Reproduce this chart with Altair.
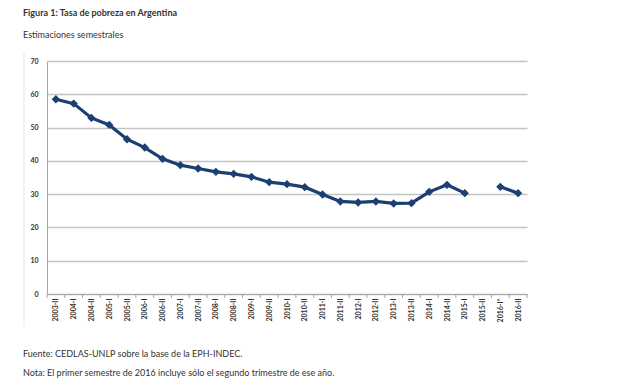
import altair as alt
import pandas as pd

categories = ["2003-II", "2004-I", "2004-II", "2005-I", "2005-II", "2006-I", "2006-II",
              "2007-I", "2007-II", "2008-I", "2008-II", "2009-I", "2009-II", "2010-I",
              "2010-II", "2011-I", "2011-II", "2012-I", "2012-II", "2013-I", "2013-II",
              "2014-I", "2014-II", "2015-I", "2015-II", "2016-I*", "2016-II"]
values = [58.5, 57.2, 52.9, 50.8, 46.5, 44.0, 40.6, 38.7, 37.7, 36.7, 36.1, 35.2, 33.6, 33.0,
          32.1, 29.9, 27.8, 27.5, 27.8, 27.2, 27.3, 30.7, 32.8, 30.3, None, 32.2, 30.3]
y_ticks = [0, 10, 20, 30, 40, 50, 60, 70]

title = "Figura 1: Tasa de pobreza en Argentina"
subtitle = "Estimaciones semestrales"
source = "Fuente: CEDLAS-UNLP sobre la base de la EPH-INDEC."
note = "Nota: El primer semestre de 2016 incluye sólo el segundo trimestre de ese año."

FONT = "Lato"
NAVY = "#1c3f73"

rows = []
seg = 0
for i, (c, v) in enumerate(zip(categories, values)):
    if v is None:
        seg += 1
        continue
    rows.append({"idx": i, "cat": c, "val": v, "seg": seg})
df = pd.DataFrame(rows)

n = len(categories)
edges = pd.DataFrame({"e": [i - 0.5 for i in range(n + 1)]})

label_expr = "[" + ",".join("'" + c + "'" for c in categories) + "][datum.value]"

x_scale = alt.Scale(domain=[-0.5, n - 0.5], nice=False, zero=False)
y_scale = alt.Scale(domain=[0, 70], nice=False)

x_axis = alt.Axis(values=list(range(n)), labelExpr=label_expr, title=None,
                  ticks=False, grid=False, labelAngle=-90, labelFont=FONT,
                  labelFontSize=7, labelFontWeight="bold", labelColor="#333333",
                  labelPadding=4, labelOverlap=False, labelBound=False,
                  tickCount=n, domainColor="#a6a6a6", domainWidth=1)
y_axis = alt.Axis(values=y_ticks, title=None, ticks=False, gridColor="#c4c4c4",
                  gridWidth=1.5, labelFont=FONT, labelFontSize=7,
                  labelFontWeight="bold", labelColor="#333333", labelPadding=9,
                  labelOverlap=False, labelBound=False, tickCount=8,
                  domainColor="#a6a6a6", domainWidth=1)

x_enc = alt.X("idx:Q", scale=x_scale, axis=x_axis)
y_enc = alt.Y("val:Q", scale=y_scale, axis=y_axis)

base = alt.Chart(df)

line = base.mark_line(color=NAVY, strokeWidth=3.2).encode(x=x_enc, y=y_enc, detail="seg:N")

points = base.mark_point(shape="diamond", filled=True, color=NAVY, size=70, opacity=1).encode(
    x=x_enc, y=y_enc
)

ticks = alt.Chart(edges).mark_rule(color="#a6a6a6", strokeWidth=1).encode(
    x=alt.X("e:Q", scale=x_scale, axis=x_axis),
    y=alt.value(233),
    y2=alt.value(237),
)

frame = alt.Chart(pd.DataFrame({"a": [0]})).mark_rule(color="#e6e6e6", strokeWidth=1).encode(
    x=alt.value(-23), y=alt.value(-9), y2=alt.value(266)
)


def txt(s, y, bold=False, size=9):
    return alt.Chart(pd.DataFrame({"t": [s]})).mark_text(
        align="left", baseline="middle", font=FONT, fontSize=size,
        fontWeight="bold" if bold else "normal", color="#333333"
    ).encode(x=alt.value(-24), y=alt.value(y), text="t:N")


chart = alt.layer(
    frame, ticks, line, points,
    txt(title, -48, bold=True, size=9),
    txt(subtitle, -26, size=9),
    txt(source, 293, size=9),
    txt(note, 312, size=9),
).properties(
    width=480, height=233,
    autosize=alt.AutoSizeParams(type="none"),
    padding={"left": 39, "top": 53, "right": 86, "bottom": 84},
    background="white",
).configure_view(stroke=None).configure_axis(labelOverlap=False)

chart.save("out.html", embed_options={"renderer": "svg", "actions": False})
